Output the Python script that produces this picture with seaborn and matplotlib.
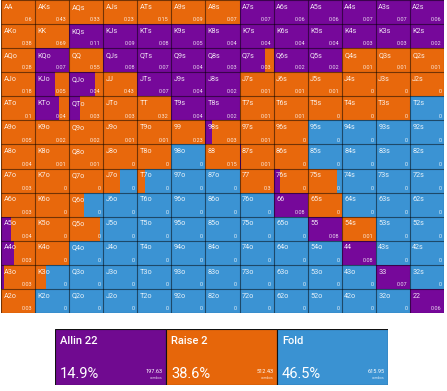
import matplotlib
matplotlib.use("Agg")
import matplotlib.pyplot as plt
import seaborn as sns
import numpy as np
from matplotlib.colors import ListedColormap

RANKS = ["A", "K", "Q", "J", "T", "9", "8", "7", "6", "5", "4", "3", "2"]

# share of each hand played as all-in (purple)
ALLIN = [
    [0, 0, 0, 0, 0, 0, 0, 1, 1, 1, 1, 1, 1],
    [0, 0, 1, 1, 1, 1, 1, 1, 1, 1, 1, 1, 1],
    [0, 1, 0, 1, 1, 1, 1, 0.75, 1, 1, 0, 0, 0],
    [0, 0.57, 0.75, 0, 1, 1, 1, 0, 0, 0, 0, 0, 0],
    [0, 0.7, 0.33, 0, 0, 1, 1, 0, 0, 0, 0, 0, 0],
    [0, 0, 0, 0, 0, 0, 0.18, 0, 0, 0, 0, 0, 0],
    [0, 0, 0, 0, 0, 0, 0, 0.05, 0, 0, 0, 0, 0],
    [0, 0, 0, 0, 0, 0, 0, 0, 0.2, 0, 0, 0, 0],
    [0, 0, 0, 0, 0, 0, 0, 0, 1, 0, 0, 0, 0],
    [0.28, 0, 0, 0, 0, 0, 0, 0, 0, 1, 0, 0, 0],
    [0.38, 0, 0, 0, 0, 0, 0, 0, 0, 0, 1, 0, 0],
    [0.1, 0, 0, 0, 0, 0, 0, 0, 0, 0, 0, 1, 0],
    [0, 0, 0, 0, 0, 0, 0, 0, 0, 0, 0, 0, 1],
]

# share played as raise (orange); the rest is fold (blue)
RAISE = [
    [1, 1, 1, 1, 1, 1, 1, 0, 0, 0, 0, 0, 0],
    [1, 1, 0, 0, 0, 0, 0, 0, 0, 0, 0, 0, 0],
    [1, 0, 1, 0, 0, 0, 0, 0.25, 0, 0, 1, 1, 1],
    [1, 0.43, 0.25, 1, 0, 0, 0, 1, 1, 1, 1, 1, 1],
    [1, 0.3, 0.67, 1, 1, 0, 0, 1, 1, 1, 1, 1, 0],
    [1, 1, 1, 1, 1, 1, 0.82, 1, 1, 0, 0, 0, 0],
    [1, 1, 1, 1, 1, 0, 1, 0.95, 1, 0, 0, 0, 0],
    [1, 1, 1, 0.5, 0.24, 0, 0, 1, 0.8, 0.85, 0, 0, 0],
    [1, 1, 0.45, 0, 0, 0, 0, 0, 0, 1, 0, 0, 0],
    [0.72, 1, 0.9, 0, 0, 0, 0, 0, 0, 0, 1, 0, 0],
    [0.62, 1, 0, 0, 0, 0, 0, 0, 0, 0, 0, 0, 0],
    [0.9, 0.33, 0, 0, 0, 0, 0, 0, 0, 0, 0, 0, 0],
    [1, 0, 0, 0, 0, 0, 0, 0, 0, 0, 0, 0, 0],
]

# small value printed in the bottom right of each cell
VALUES = [
    [0.6, 0.43, 0.33, 0.23, 0.15, 0.09, 0.07, 0.07, 0.06, 0.06, 0.07, 0.07, 0.06],
    [0.38, 0.69, 0.11, 0.09, 0.08, 0.05, 0.04, 0.04, 0.04, 0.04, 0.03, 0.03, 0.02],
    [0.28, 0.07, 0.55, 0.08, 0.07, 0.04, 0.03, 0.03, 0.02, 0.02, 0.01, 0.01, 0.01],
    [0.18, 0.05, 0.04, 0.43, 0.07, 0.04, 0.02, 0.01, 0.01, 0.01, 0, 0, 0],
    [0.1, 0.04, 0.03, 0.03, 0.32, 0.04, 0.02, 0.01, 0.01, 0, 0, 0, 0],
    [0.05, 0.02, 0.02, 0.01, 0.01, 0.23, 0.03, 0.01, 0, 0, 0, 0, 0],
    [0.04, 0.01, 0.01, 0, 0, 0, 0.15, 0.01, 0, 0, 0, 0, 0],
    [0.03, 0, 0, 0, 0, 0, 0, 0.3, 0, 0, 0, 0, 0],
    [0.03, 0, 0, 0, 0, 0, 0, 0, 0.08, 0, 0, 0, 0],
    [0.04, 0, 0, 0, 0, 0, 0, 0, 0, 0.08, 0.01, 0, 0],
    [0.03, 0, 0, 0, 0, 0, 0, 0, 0, 0, 0.08, 0, 0],
    [0.03, 0, 0, 0, 0, 0, 0, 0, 0, 0, 0, 0.07, 0],
    [0.03, 0, 0, 0, 0, 0, 0, 0, 0, 0, 0, 0, 0.06],
]

LEGEND_LABELS = ["Allin 22", "Raise 2", "Fold"]
LEGEND_PCT = [14.9, 38.6, 46.5]
LEGEND_COMBOS = [197.63, 512.43, 615.95]

PURPLE = "#76089a"
ORANGE = "#e8680c"
BLUE = "#3b93d3"

sns.set_theme(style="white")
plt.rcParams['font.family'] = ['Roboto', 'DejaVu Sans']

fig = plt.figure(figsize=(4.47, 3.91), dpi=100)
H, W = 391, 447
ax = fig.add_axes([1 / W, 1 - 313 / H, 443 / W, 313 / H])

# fold colour as the base of every cell
sns.heatmap(np.ones((13, 13)), cmap=ListedColormap([BLUE]), cbar=False,
            ax=ax, xticklabels=False, yticklabels=False)

allin = np.array(ALLIN, dtype=float)
raise_ = np.array(RAISE, dtype=float)
for i in range(13):
    ax.barh(np.full(13, i + 0.5), allin[i], left=np.arange(13), height=1,
            color=PURPLE, linewidth=0)
    ax.barh(np.full(13, i + 0.5), raise_[i], left=np.arange(13) + allin[i],
            height=1, color=ORANGE, linewidth=0)

for i in range(13):
    for j in range(13):
        if i == j:
            hand = RANKS[i] * 2
        elif j > i:
            hand = RANKS[i] + RANKS[j] + "s"
        else:
            hand = RANKS[j] + RANKS[i] + "o"
        ax.text(j + 0.07, i + 0.3, hand, color="white", fontsize=5.2,
                ha="left", va="center", alpha=0.88)
        ax.text(j + 0.93, i + 0.82, f"{VALUES[i][j]:g}", color="white",
                fontsize=4, ha="right", va="center", alpha=0.85)

ax.hlines(np.arange(14), 0, 13, color="black", alpha=0.5, linewidth=0.8)
ax.vlines(np.arange(14), 0, 13, color="black", alpha=0.5, linewidth=0.8)
ax.set_xlim(0, 13)
ax.set_ylim(13, 0)
ax.axis("off")

# legend boxes
lax = fig.add_axes([55 / W, 1 - 385 / H, 333 / W, 56 / H])
lcolors = ["#700a90", "#e6660a", "#3a92d2"]
lax.barh(0.5, [1, 1, 1], left=[0, 1, 2], height=1, color=lcolors,
         edgecolor="#111111", linewidth=0.8)
for k in range(3):
    lax.text(k + 0.045, 0.78, LEGEND_LABELS[k], color="white", fontsize=8,
             ha="left", va="center", fontweight="medium")
    lax.text(k + 0.045, 0.2, f"{LEGEND_PCT[k]}%", color="white", fontsize=10.5,
             ha="left", va="center")
    lax.text(k + 0.97, 0.24, f"{LEGEND_COMBOS[k]:.2f}", color="white",
             fontsize=4, ha="right", va="center")
    lax.text(k + 0.97, 0.12, "combos", color="white", fontsize=2.5,
             ha="right", va="center", alpha=0.8)
lax.set_xlim(0, 3)
lax.set_ylim(0, 1)
lax.axis("off")

fig.savefig("out.png", dpi=100)
